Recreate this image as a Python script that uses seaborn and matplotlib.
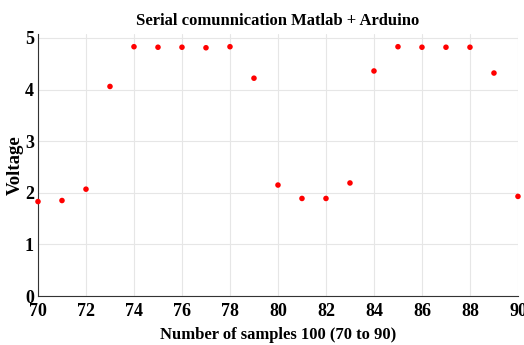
import matplotlib
matplotlib.use("Agg")
import matplotlib.pyplot as plt
import seaborn as sns
import pandas as pd

samples = list(range(70, 91))
voltage = [1.83, 1.85, 2.07, 4.06, 4.83, 4.82, 4.82, 4.81, 4.83, 4.22,
           2.15, 1.89, 1.89, 2.19, 4.36, 4.83, 4.82, 4.82, 4.82, 4.32, 1.93]
xticks = list(range(70, 91, 2))
yticks = [0, 1, 2, 3, 4, 5]

sns.set_theme(style="whitegrid")
plt.rcParams['font.family'] = ['Liberation Serif', 'DejaVu Serif']
plt.rcParams['font.weight'] = 'bold'
plt.rcParams['text.color'] = 'black'
plt.rcParams['axes.labelcolor'] = 'black'

df = pd.DataFrame({"Sample": samples, "Voltage": voltage})

fig = plt.figure(figsize=(5.24, 3.45), dpi=100)
ax = fig.add_axes([0.0725, 0.142, 0.916, 0.76])
sns.scatterplot(data=df, x="Sample", y="Voltage", ax=ax, color="#ff0000",
                s=16, edgecolor="none", linewidth=0, zorder=3, clip_on=False)

ax.set_xlim(70, 90)
ax.set_ylim(0, 5.08)
ax.set_xticks(xticks)
ax.set_yticks(yticks)
ax.grid(True, color="#e6e6e6", linewidth=0.8)
for s in ["top", "right"]:
    ax.spines[s].set_visible(False)
for s in ["left", "bottom"]:
    ax.spines[s].set_color("#333333")
    ax.spines[s].set_linewidth(0.8)
ax.tick_params(axis="both", direction="in", length=3, width=0.8, colors="#333333",
               labelcolor="black", labelsize=13)
ax.tick_params(axis="x", pad=5)
ax.tick_params(axis="y", pad=3)
for lab in ax.get_xticklabels() + ax.get_yticklabels():
    lab.set_fontweight("bold")
ax.set_xlabel("Number of samples 100 (70 to 90)", fontsize=12, fontweight="bold", labelpad=5)
ax.set_ylabel("Voltage", fontsize=13.5, fontweight="bold", labelpad=1)
ax.set_title("Serial comunnication Matlab + Arduino", fontsize=12, fontweight="bold", pad=6)

fig.savefig("out.png", dpi=100)
